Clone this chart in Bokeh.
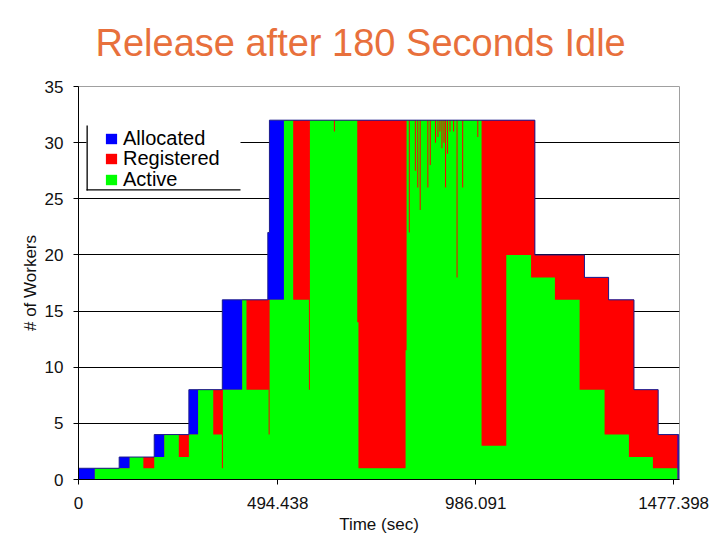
from bokeh.plotting import figure
from bokeh.models import Range1d, FixedTicker, Legend, LegendItem, BoxAnnotation
from bokeh.embed import file_html
from bokeh.resources import INLINE

# ---------------- data ----------------
title_text = "Release after 180 Seconds Idle"
x_label = "Time (sec)"
y_label = "# of Workers"
series_names = ["Allocated", "Registered", "Active"]
series_colors = ["#0000FF", "#FF0000", "#00FF00"]

x_tick_values = [0, 494.438, 986.091, 1477.398]
x_tick_labels = ["0", "494.438", "986.091", "1477.398"]
y_tick_values = [0, 5, 10, 15, 20, 25, 30, 35]

alloc_t = [0, 101, 188, 274, 357, 470, 474, 1133, 1256, 1316, 1379, 1439, 1490]
alloc_v = [1, 2, 4, 8, 16, 22, 32, 20, 18, 16, 8, 4, 0]

reg_t = [0, 40.5, 127, 213, 297, 406.5, 510, 1133, 1256, 1316, 1379, 1439, 1487]
reg_v = [0, 1, 2, 4, 8, 16, 32, 20, 18, 16, 8, 4, 0]

act_t = [0, 40.5, 127, 161, 188, 213, 249, 274, 297, 334.5, 356, 358.5, 406.5, 417,
         472, 474.5, 510, 533, 572, 574.5, 634, 636.5, 692, 695, 812, 814.5,
         820, 822.5, 835, 837.5, 841, 843.5, 847, 849.5, 866, 868.5, 872, 874.5,
         885, 887.5, 891, 893.5, 896, 898.5, 901, 903.5, 906, 908.5, 910, 912.5,
         915, 917.5, 921, 923.5, 930, 932.5, 938.5, 941, 952.5, 955, 990, 992.5,
         1000.6, 1062, 1123.5, 1182.7, 1244, 1306, 1366.4, 1426, 1486.6]
act_v = [0, 1, 2, 1, 2, 4, 2, 4, 8, 4, 1, 8, 16, 8,
         4, 16, 32, 16, 8, 32, 31, 32, 14, 1, 11.5, 32,
         22, 32, 27.5, 32, 26, 32, 24, 32, 26, 32, 28, 32,
         30, 32, 30.5, 32, 31, 32, 29.5, 32, 30, 32, 26, 32,
         29, 32, 31, 32, 31, 32, 18, 32, 26, 32, 30.5, 32,
         3, 20, 18, 16, 8, 4, 2, 1, 0]


def steps(t, v):
    xs, ys = [], []
    for i in range(len(t)):
        t1 = t[i + 1] if i + 1 < len(t) else t[i]
        xs += [t[i], t1]
        ys += [v[i], v[i]]
    return xs, ys


FONT = "Liberation Sans"

p = figure(width=712, height=539, output_backend="svg", toolbar_location=None,
           x_range=Range1d(0, 1492), y_range=Range1d(0, 35),
           min_border_left=78, min_border_right=33, min_border_top=86,
           min_border_bottom=60)

p.background_fill_color = "white"
p.border_fill_color = "white"
p.outline_line_color = "#a0a0a0"
p.outline_line_width = 1

# title
p.title.text = title_text
p.title.text_font = FONT
p.title.text_font_size = "38px"
p.title.text_font_style = "normal"
p.title.text_color = "#E8703C"
p.title.align = "left"
p.title.vertical_align = "top"
p.title.offset = 17
p.title.standoff = 42

# grid
p.xgrid.visible = False
p.ygrid.ticker = FixedTicker(ticks=[5, 10, 15, 20, 25, 30])
p.ygrid.grid_line_color = "black"
p.ygrid.grid_line_width = 1

# axes
for ax in (p.xaxis[0], p.yaxis[0]):
    ax.axis_line_color = "black"
    ax.axis_line_width = 1
    ax.major_tick_line_color = "black"
    ax.major_tick_in = 0
    ax.major_tick_out = 5
    ax.minor_tick_line_color = None
    ax.major_label_text_font = FONT
    ax.major_label_text_font_size = "17px"
    ax.major_label_text_color = "#111111"
    ax.axis_label_text_font = FONT
    ax.axis_label_text_font_size = "17px"
    ax.axis_label_text_font_style = "normal"
    ax.axis_label_text_color = "#111111"

p.xaxis.ticker = FixedTicker(ticks=x_tick_values)
p.xaxis.major_label_overrides = {v: s for v, s in zip(x_tick_values, x_tick_labels)}
p.xaxis.axis_label = x_label
p.xaxis.major_label_standoff = 12
p.xaxis.axis_label_standoff = 3

p.yaxis.ticker = FixedTicker(ticks=y_tick_values)
p.yaxis.axis_label = y_label
p.yaxis.major_label_standoff = 10
p.yaxis.axis_label_standoff = 2

# areas (overlapping, not stacked)
ax_, ay_ = steps(alloc_t, alloc_v)
rx_, ry_ = steps(reg_t, reg_v)
gx_, gy_ = steps(act_t, act_v)

r_alloc = p.varea(x=ax_, y1=0, y2=ay_, fill_color=series_colors[0])
r_reg = p.varea(x=rx_, y1=0, y2=ry_, fill_color=series_colors[1])
r_act = p.varea(x=gx_, y1=0, y2=gy_, fill_color=series_colors[2])
p.line(x=ax_, y=ay_, line_color="#1c1c8c", line_width=1)

# legend decoration (white box with left and bottom rule)
box_kw = dict(left_units="screen", right_units="screen",
              top_units="screen", bottom_units="screen", line_color=None)
p.add_layout(BoxAnnotation(left=8, right=162, bottom=289, top=354,
                           fill_color="white", fill_alpha=1, **box_kw))
p.add_layout(BoxAnnotation(left=8, right=9.3, bottom=289, top=354,
                           fill_color="black", fill_alpha=1, **box_kw))
p.add_layout(BoxAnnotation(left=8, right=162, bottom=289, top=290.3,
                           fill_color="black", fill_alpha=1, **box_kw))

# one legend row per series, so the row pitch matches the reference
row_bottoms = [329, 309, 288]
for name, rend, yb in zip(series_names, [r_alloc, r_reg, r_act], row_bottoms):
    lg = Legend(items=[LegendItem(label=name, renderers=[rend])], location=(26, yb))
    lg.background_fill_alpha = 0
    lg.border_line_alpha = 0
    lg.padding = 0
    lg.margin = 0
    lg.spacing = 0
    lg.glyph_width = 14
    lg.glyph_height = 13
    lg.label_standoff = 5
    lg.label_height = 20
    lg.label_text_font = FONT
    lg.label_text_font_size = "20px"
    lg.label_text_color = "black"
    p.add_layout(lg)

open("out.html", "w").write(file_html(p, INLINE))
